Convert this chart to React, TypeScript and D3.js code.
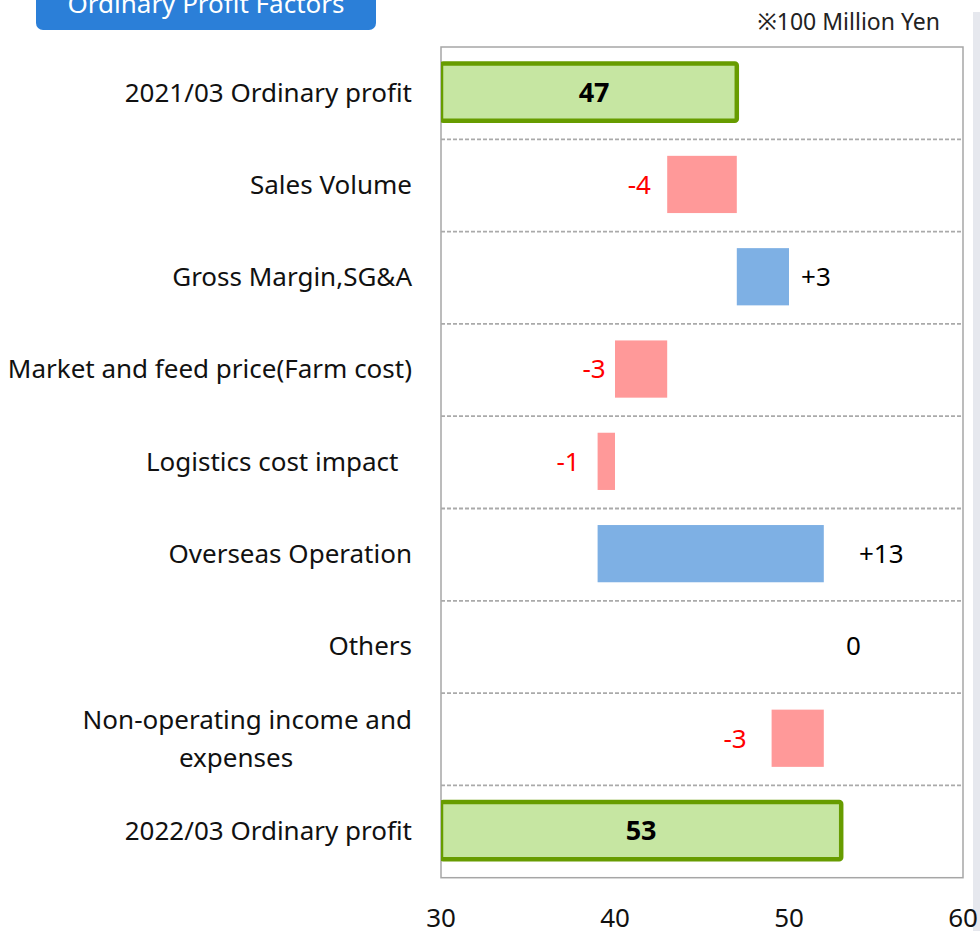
import React from "react";
import * as d3 from "d3";

const categories = [
  "2021/03 Ordinary profit",
  "Sales Volume",
  "Gross Margin,SG&A",
  "Market and feed price(Farm cost)",
  "Logistics cost impact\u00A0\u00A0",
  "Overseas Operation",
  "Others",
  "Non-operating income and|expenses",
  "2022/03 Ordinary profit",
];
const barStart = [30, 43, 47, 40, 39, 39, 52, 49, 30];
const barEnd = [47, 47, 50, 43, 40, 52, 52, 52, 53];
const barKind = ["total", "dec", "inc", "dec", "dec", "inc", "zero", "dec", "total"];
const valueLabels = ["47", "-4", "+3", "-3", "-1", "+13", "0", "-3", "53"];
const labelAt = [38.8, 41.4, 51.55, 38.8, 37.3, 55.3, 53.7, 46.9, 41.5];
const xTicks = [30, 40, 50, 60];
const xDomain = [30, 60];

const W = 980;
const H = 931;
const plot = { left: 441, right: 963, top: 47, bottom: 877.7 };
const FONT = "'Noto Sans', 'Noto Sans CJK JP', sans-serif";

export default function App() {
  const x = d3.scaleLinear().domain(xDomain).range([plot.left, plot.right]);
  const y = d3
    .scaleBand<string>()
    .domain(categories)
    .range([plot.top, plot.bottom])
    .paddingInner(0.38)
    .paddingOuter(0.19);
  const step = y.step();
  const bw = y.bandwidth();

  const fillFor = (k: string) =>
    k === "total" ? "#c6e6a2" : k === "dec" ? "#ff9999" : "#7eb0e4";

  return (
    <svg
      width={W}
      height={H}
      style={{ position: "absolute", left: 0, top: 0, background: "#fff" }}
      fontFamily={FONT}
    >
      <defs>
        <clipPath id="plotClip">
          <rect x={plot.left} y={plot.top} width={plot.right - plot.left} height={plot.bottom - plot.top} />
        </clipPath>
      </defs>
      {/* right grey strip */}
      <rect x={973} y={12} width={W - 973} height={H - 12} fill="#e6e8ee" />

      {/* header */}
      <rect x={36} y={-20} width={340} height={50} rx={7} fill="#2b7fd8" />
      <text x={206} y={13} textAnchor="middle" fill="#fff" fontSize={26}>
        Ordinary Profit Factors
      </text>

      <text x={940} y={30} textAnchor="end" fill="#222" fontSize={23}>
        ※100 Million Yen
      </text>

      {/* plot border */}
      <rect
        x={plot.left}
        y={plot.top}
        width={plot.right - plot.left}
        height={plot.bottom - plot.top}
        fill="none"
        stroke="#a6a6a6"
        strokeWidth={1.5}
      />

      {/* dashed separators */}
      {categories.slice(1).map((c) => {
        const yy = (y(c) as number) - (step - bw) / 2;
        return (
          <line
            key={"g" + c}
            x1={plot.left}
            x2={plot.right}
            y1={yy}
            y2={yy}
            stroke="#aaaaaa"
            strokeWidth={1.8}
            strokeDasharray="4 2"
          />
        );
      })}

      {/* bars */}
      <g clipPath="url(#plotClip)">
        {categories.map((c, i) => {
          if (barKind[i] === "zero") return null;
          const x0 = x(Math.min(barStart[i], barEnd[i]));
          const x1 = x(Math.max(barStart[i], barEnd[i]));
          const yy = (y(c) as number) - 1;
          const isTotal = barKind[i] === "total";
          return (
            <rect
              key={"b" + c}
              x={x0}
              y={yy}
              width={x1 - x0}
              height={bw}
              rx={isTotal ? 2 : 0}
              fill={fillFor(barKind[i])}
              stroke={isTotal ? "#679c00" : "none"}
              strokeWidth={isTotal ? 4.5 : 0}
            />
          );
        })}
      </g>

      {/* value labels */}
      {categories.map((c, i) => {
        const cy = (y(c) as number) - 1 + bw / 2;
        const isTotal = barKind[i] === "total";
        const cx = x(labelAt[i]);
        return (
          <text
            key={"v" + c}
            x={cx}
            y={cy}
            dy="0.36em"
            textAnchor="middle"
            fontSize={isTotal ? 27 : 26}
            fontWeight={isTotal ? 700 : 400}
            fill={barKind[i] === "dec" ? "#ff0000" : "#000"}
          >
            {valueLabels[i]}
          </text>
        );
      })}

      {/* category labels */}
      {categories.map((c) => {
        const cy = (y(c) as number) - 1 + bw / 2;
        const lines = c.split("|");
        if (lines.length === 1) {
          return (
            <text key={"c" + c} x={412} y={cy} dy="0.36em" textAnchor="end" fontSize={26} fill="#111">
              {c}
            </text>
          );
        }
        return (
          <g key={"c" + c}>
            <text x={412} y={cy - 19} dy="0.36em" textAnchor="end" fontSize={26} fill="#111">
              {lines[0]}
            </text>
            <text x={236} y={cy + 19} dy="0.36em" textAnchor="middle" fontSize={26} fill="#111">
              {lines[1]}
            </text>
          </g>
        );
      })}

      {/* x tick labels */}
      {xTicks.map((t) => (
        <text key={"t" + t} x={x(t)} y={918} dy="0.36em" textAnchor="middle" fontSize={26} fill="#111">
          {t}
        </text>
      ))}
    </svg>
  );
}
